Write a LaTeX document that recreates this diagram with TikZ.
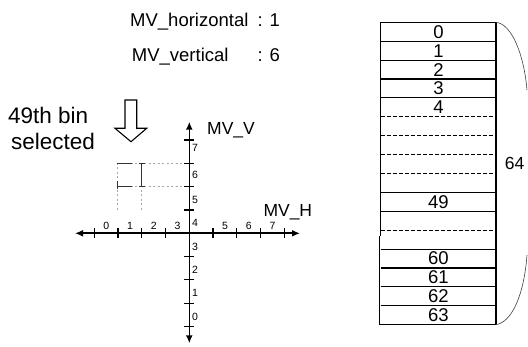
\documentclass[tikz,border=0pt]{standalone}
\usepackage{fontspec}
\setmainfont{Liberation Sans}
\usetikzlibrary{arrows.meta}
\begin{document}
\begin{tikzpicture}[x=1pt,y=-1pt,
  lbl/.style={inner sep=0pt,font=\fontsize{18.5}{20}\selectfont},
  big/.style={inner sep=0pt,font=\fontsize{22.5}{24}\selectfont},
  num/.style={inner sep=0pt,font=\fontsize{10.5}{11}\selectfont},
  binlbl/.style={inner sep=0pt,font=\fontsize{18.5}{19}\selectfont},
  axis/.style={line width=1.6pt,{Latex[length=8pt,width=7pt]}-{Latex[length=8pt,width=7pt]}},
  tick/.style={line width=1.2pt},
  grid/.style={gray!70,line width=0.6pt,dash pattern=on 2pt off 2.5pt},
  selbin/.style={black!80,line width=0.9pt},
  rowline/.style={line width=1.1pt},
  rowdash/.style={line width=1.1pt,dash pattern=on 4pt off 2pt},
  brace/.style={black!75,line width=0.6pt}]
\useasboundingbox (0,0) rectangle (528,347);

% 标题
\node[lbl,anchor=base west] (mvh) at (130,26.7) {MV\_horizontal};
\node[lbl,anchor=base west] (mvhval) at (257.5,26.7) {: 1};
\node[lbl,anchor=base west] (mvv) at (131.7,61.7) {MV\_vertical};
\node[lbl,anchor=base west] (mvvval) at (257.5,61.7) {: 6};

% 选中的 bin
\node[big,anchor=base west] (sel1) at (8,123.3) {49th bin};
\node[big,anchor=base west] (sel2) at (11,150) {selected};
\draw[line width=1.1pt] (125,100) -- (136.7,100) -- (136.7,128.3) -- (146.7,128.3)
  -- (131,141.7) -- (115,128.3) -- (125,128.3) -- cycle;

% 坐标轴
\coordinate (O) at (189.3,233.3);
\coordinate (xl) at (75,233.3);
\coordinate (xr) at (300,233.3);
\coordinate (yt) at (189.3,121.7);
\coordinate (yb) at (189.3,343.3);
\draw[grid] (117.3,163) -- (189.3,163);
\draw[grid] (117.3,186) -- (189.3,186);
\draw[grid] (117.3,163) -- (117.3,210);
\draw[grid] (141.7,163) -- (141.7,210);
\draw[selbin] (117.3,163) -- (132,163);
\draw[selbin] (117.3,186) -- (132,186);
\draw[selbin] (117.3,181) -- (117.3,189);
\draw[selbin] (141.7,163) -- (141.7,186);
\draw[selbin] (139,163) -- (144.5,163);
\draw[selbin] (139,186) -- (144.5,186);
\draw[axis] (xl) -- (xr);
\draw[axis] (yb) -- (yt);
\foreach \k in {-4,-3,-2,-1,1,2,3,4} {
  \draw[tick] (189.3+\k*23.75,228.3) -- (189.3+\k*23.75,238.3);
  \draw[tick] (184.3,233.3-\k*23.3) -- (194.3,233.3-\k*23.3);
}
\foreach \k in {0,1,2,3,5,6,7} {
  \node[num] (hx\k) at (189.3+\k*23.75-83.1,225.5) {\k};
}
\foreach \y/\name in {148.3/7,175/6,200/5,223.3/4,246.7/3,270/2,293.3/1,316.7/0} {
  \node[num,anchor=west] (vy\name) at (191.8,\y) {\name};
}
\node[lbl,anchor=base west,font=\fontsize{17.5}{18}\selectfont] (mvV) at (207,135) {MV\_V};
\node[lbl,anchor=base west,font=\fontsize{17.5}{18}\selectfont] (mvH) at (263.3,216.5) {MV\_H};

% bin 表
\foreach \k in {0,1,2,3,4,9,10,12,13,14,15,16} {
  \draw[rowline] (380.7,22.3+\k*18.9) -- (496,22.3+\k*18.9);
}
\foreach \k in {5,6,7,8,11} {
  \draw[rowdash] (380.7,22.3+\k*18.9) -- (496,22.3+\k*18.9);
}
\draw[rowline] (379.3,324.7) -- (496,324.7);
\draw[rowline] (380.7,22.3) -- (380.7,236);
\draw[rowline] (379.3,236) -- (379.3,324.7);
\draw[rowline] (496,22.3) -- (496,324.7);
\foreach \r/\name in {0/0,1/1,2/2,3/3,4/4,9/49,12/60,13/61,14/62,15/63} {
  \node[binlbl] (bin\name) at (438.4,22.3+\r*18.9+9.45) {\name};
}
\coordinate (tabtr) at (496,22.3);
\coordinate (tabbr) at (496,324.7);
\coordinate (brup) at (527,90);
\coordinate (brlo) at (527,255);
\draw[brace] (tabtr) .. controls (512,24) and (524,55) .. (brup);
\draw[brace] (brlo) .. controls (524,295) and (512,322) .. (tabbr);
\node[binlbl,font=\fontsize{17.5}{18}\selectfont] (cnt) at (514.5,163.3) {64};
\end{tikzpicture}
\end{document}
